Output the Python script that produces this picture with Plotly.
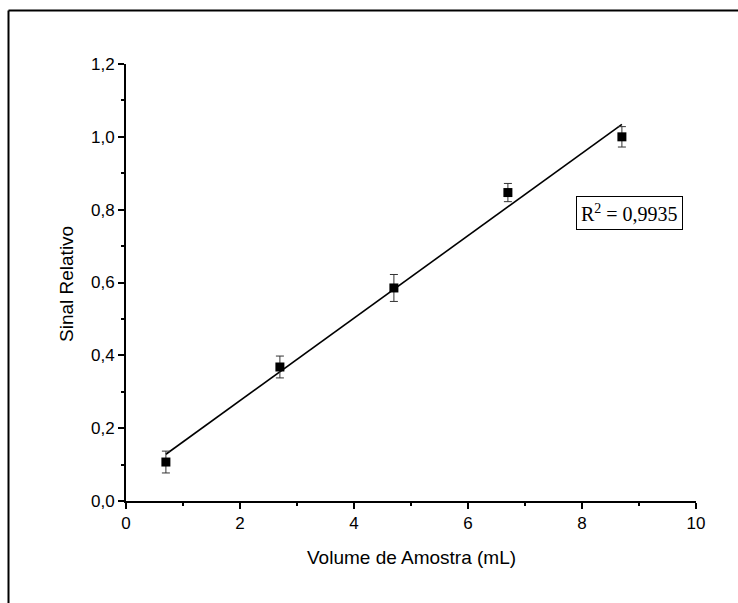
import numpy as np
import plotly.graph_objects as go

# Sample volume (mL) vs relative signal, with standard deviations
volume = [0.7, 2.7, 4.7, 6.7, 8.7]
signal = [0.107, 0.368, 0.585, 0.847, 1.000]
signal_err = [0.030, 0.030, 0.037, 0.025, 0.028]

x_ticks = [0, 2, 4, 6, 8, 10]
y_ticks = [0.0, 0.2, 0.4, 0.6, 0.8, 1.0, 1.2]
y_tick_text = ["0,0", "0,2", "0,4", "0,6", "0,8", "1,0", "1,2"]

# Linear least-squares fit over the measured points
x_arr = np.array(volume)
y_arr = np.array(signal)
slope, intercept = np.polyfit(x_arr, y_arr, 1)
pred = slope * x_arr + intercept
r2 = 1 - np.sum((y_arr - pred) ** 2) / np.sum((y_arr - y_arr.mean()) ** 2)
fit_x = [volume[0], volume[-1]]
fit_y = [slope * v + intercept for v in fit_x]

W, H = 738, 603
L, R, T, B = 126, 42, 64, 102
pw, ph = W - L - R, H - T - B

SANS = "Liberation Sans, Arial, sans-serif"
SERIF = "Liberation Serif, Times New Roman, serif"

fig = go.Figure()
fig.add_trace(go.Scatter(
    x=fit_x, y=fit_y, mode="lines",
    line=dict(color="black", width=1.6), hoverinfo="skip"))
fig.add_trace(go.Scatter(
    x=volume, y=signal, mode="markers",
    marker=dict(symbol="square", size=9, color="black"),
    error_y=dict(type="data", array=signal_err, visible=True,
                 color="#333333", thickness=1, width=4)))

axis_common = dict(
    showline=True, linecolor="black", linewidth=2,
    ticks="outside", ticklen=6, tickwidth=2, tickcolor="black",
    showgrid=False, zeroline=False, mirror=False,
    tickfont=dict(family=SANS, size=17, color="black"),
    minor=dict(ticks="outside", ticklen=3, tickwidth=2, tickcolor="black"),
)

fig.update_xaxes(range=[0, 10], tickvals=x_ticks, **axis_common)
fig.update_xaxes(minor_dtick=1)
fig.update_yaxes(range=[0, 1.2], tickvals=y_ticks, ticktext=y_tick_text, **axis_common)
fig.update_yaxes(minor_dtick=0.1)


def px_to_paper(px, py):
    return (px - L) / pw, (H - B - py) / ph


# Axis titles
tx, ty = px_to_paper(411, 557)
fig.add_annotation(
    text="Volume de Amostra (mL)", xref="paper", yref="paper",
    x=tx, y=ty, xanchor="center", yanchor="middle", showarrow=False,
    font=dict(family=SANS, size=19, color="black"))
tx, ty = px_to_paper(66, 284)
fig.add_annotation(
    text="Sinal Relativo", xref="paper", yref="paper",
    x=tx, y=ty, xanchor="center", yanchor="middle", showarrow=False, textangle=-90,
    font=dict(family=SANS, size=19, color="black"))

# Coefficient of determination in a boxed label
tx, ty = px_to_paper(629, 213)
fig.add_annotation(
    text="R<sup>2</sup> = " + f"{r2:.4f}".replace(".", ","),
    xref="paper", yref="paper",
    x=tx, y=ty, xanchor="center", yanchor="middle", showarrow=False,
    font=dict(family=SERIF, size=20, color="black"),
    bordercolor="black", borderwidth=1, borderpad=4, bgcolor="white")

# Outer frame (left and top edges)
x0, y0 = px_to_paper(8.5, 10.5)
x1, _ = px_to_paper(W + 5, 10.5)
_, y1 = px_to_paper(8.5, H + 5)
fig.add_shape(type="line", xref="paper", yref="paper", x0=x0, y0=y0, x1=x1, y1=y0,
              line=dict(color="black", width=2))
fig.add_shape(type="line", xref="paper", yref="paper", x0=x0, y0=y0, x1=x0, y1=y1,
              line=dict(color="black", width=2))

fig.update_layout(
    width=W, height=H,
    margin=dict(l=L, r=R, t=T, b=B),
    paper_bgcolor="white", plot_bgcolor="white",
    showlegend=False,
)

fig.write_html("out.html")
